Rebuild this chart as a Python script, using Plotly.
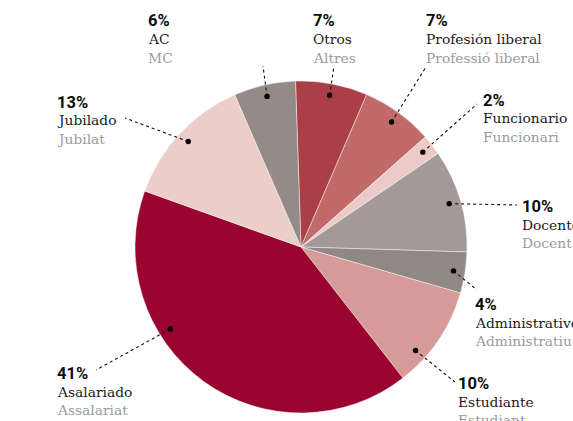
import math
import plotly.graph_objects as go

# Occupation breakdown (clockwise from 12 o'clock)
pct = [7, 7, 2, 10, 4, 10, 41, 13, 6]
name_es = ["Otros", "Profesión liberal", "Funcionario", "Docente", "Administrativo",
           "Estudiante", "Asalariado", "Jubilado", "AC"]
name_ca = ["Altres", "Professió liberal", "Funcionari", "Docent", "Administratiu",
           "Estudiant", "Assalariat", "Jubilat", "MC"]
colors = ["#ab3f48", "#c26a6a", "#ebcac7", "#a29998", "#8f8883",
          "#d69b98", "#9a0530", "#ebcdc9", "#948a86"]

W, H = 573, 421
CX, CY, R = 301, 247, 166
ROTATION = -1.9

# label block anchor (left x, centre y of the percentage line), in pixels
label_pos = [(312, 21), (425, 21), (482, 100), (521, 206), (474, 304),
             (457, 383), (56, 373), (56, 102), (147, 21)]
# outer end of each leader line, in pixels
leader_end = [(334, 66), (426, 67), (477, 104), (517, 205), (477, 290),
              (455, 382), (96, 370), (125, 118), (263, 66)]
# extra angular shift of the leader dot inside its slice (degrees)
dot_nudge = [0, 0, 0, 0, 0, 8, 22, 0, 0]


def px(x, y):
    return x / W, 1 - y / H


fig = go.Figure()
fig.add_trace(go.Pie(
    values=pct,
    labels=name_es,
    sort=False,
    direction="clockwise",
    rotation=ROTATION,
    marker=dict(colors=colors, line=dict(color="rgba(255,255,255,0.55)", width=0.8)),
    textinfo="none",
    hoverinfo="label+percent",
    showlegend=False,
    domain=dict(x=[(CX - R) / W, (CX + R) / W], y=[1 - (CY + R) / H, 1 - (CY - R) / H]),
))

shapes = []
annotations = []
total = sum(pct)
cum = 0
for i, v in enumerate(pct):
    mid = (cum + v / 2) / total * 360 + ROTATION + dot_nudge[i]
    cum += v
    a = math.radians(mid)
    dx = CX + 0.93 * R * math.sin(a)
    dy = CY - 0.93 * R * math.cos(a)
    ex, ey = leader_end[i]
    x0, y0 = px(dx, dy)
    x1, y1 = px(ex, ey)
    shapes.append(dict(type="line", xref="paper", yref="paper", x0=x0, y0=y0, x1=x1, y1=y1,
                       line=dict(color="#111111", width=1.1, dash="dot"), layer="above"))
    rr = 2.7
    cx0, cy0 = px(dx - rr, dy + rr)
    cx1, cy1 = px(dx + rr, dy - rr)
    shapes.append(dict(type="circle", xref="paper", yref="paper", x0=cx0, y0=cy0, x1=cx1, y1=cy1,
                       fillcolor="#000000", line=dict(color="#000000", width=0), layer="above"))

    lx, ly = label_pos[i]
    rows = [
        (f"<b>{v}%</b>", dict(family="Roboto, Liberation Sans, sans-serif",
                              size=16.5, color="#0d0d0d"), 0),
        (name_es[i], dict(family="DejaVu Serif, serif", size=13.8, color="#1a1a1a"), 18.5),
        (name_ca[i], dict(family="DejaVu Serif, serif", size=13.8, color="#9b9b9b"), 37),
    ]
    for text, font, off in rows:
        ax_, ay_ = px(lx, ly + off)
        annotations.append(dict(text=text, xref="paper", yref="paper", x=ax_, y=ay_,
                                xanchor="left", yanchor="middle", showarrow=False,
                                font=font, borderpad=0))

fig.update_layout(
    width=W, height=H,
    margin=dict(l=0, r=0, t=0, b=0),
    paper_bgcolor="white",
    plot_bgcolor="white",
    shapes=shapes,
    annotations=annotations,
)

fig.write_html("out.html")
